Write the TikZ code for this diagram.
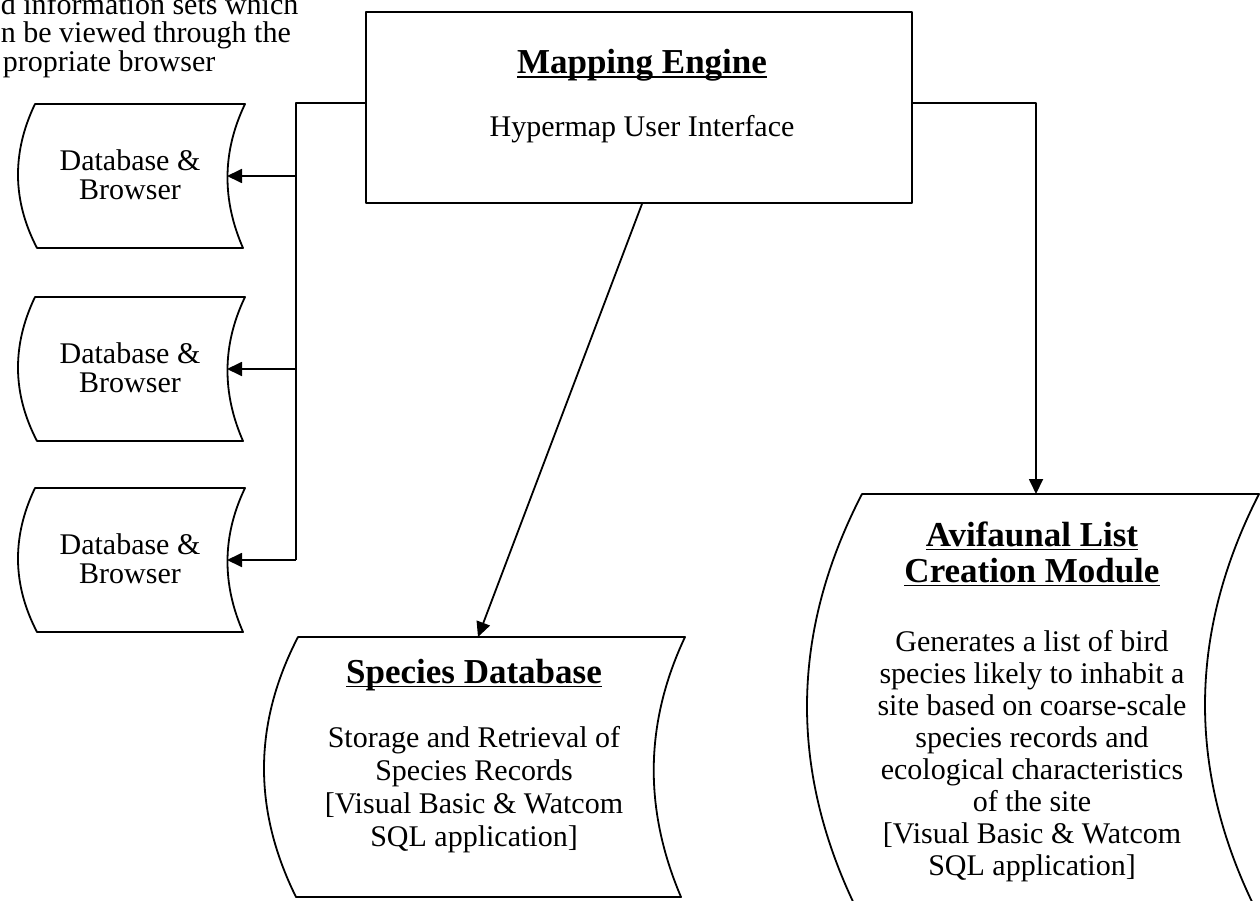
\documentclass[tikz,border=0pt]{standalone}
\usepackage{fontspec}
\setmainfont{Liberation Serif}
\usetikzlibrary{arrows.meta}
\newsavebox\ulbx
% underline set just below the baseline, crossing the descenders
\newcommand\ulfix[1]{\sbox\ulbx{#1}\rlap{\rule[-4pt]{\wd\ulbx}{1.6pt}}\usebox\ulbx}
\begin{document}
\begin{tikzpicture}[x=1pt,y=-1pt,
  line width=1.8pt, line join=round,
  arr/.style={-{Triangle[length=15pt,width=14pt]}},
  body/.style={align=center,inner sep=0pt,font=\fontsize{30}{32}\selectfont},
  ttl/.style={align=center,inner sep=0pt,font=\bfseries\fontsize{35}{36}\selectfont},
  note/.style={anchor=base west,inner sep=0pt,font=\fontsize{30}{30}\selectfont}]
\useasboundingbox (0,0) rectangle (1260,901);
\clip (0,0) rectangle (1260,901);
\fill[white] (0,0) rectangle (1260,901);

% caption text at the top left
\node[note] (note1) at (0,15) {d information sets which};
\node[note] (note2) at (0,43) {n be viewed through the};
\node[note] (note3) at (2,72) {propriate browser};

% mapping engine
\node[draw, minimum width=546pt, minimum height=191pt, inner sep=0pt] (me) at (639,107.5) {};
\node[ttl] (metitle) at (642,65.5) {\ulfix{Mapping Engine}};
\node[body] (mesub) at (642,129) {Hypermap User Interface};

% database & browser stores
\foreach \t/\n in {104/1,297/2,488/3}{
  \draw (35,\t) -- (245,\t) .. controls (222,\t+48) and (222,\t+96) .. (243,\t+144)
        -- (37,\t+144) .. controls (12,\t+96) and (12,\t+48) .. cycle;
  \node[body, font=\fontsize{30}{29}\selectfont] (db\n) at (130,\t+71) {Database \&\\Browser};
  \coordinate (dbin\n) at (227,\t+72);
  \coordinate (bus\n) at (296,\t+72);
}
\draw ([yshift=4.5pt]me.west) -| (bus3);
\foreach \n in {1,2,3} \draw[arr] (bus\n) -- (dbin\n);

% species database
\draw (298,637) -- (685,637) .. controls (644,724) and (644,810) .. (681,897)
      -- (296,897) .. controls (253,810) and (253,724) .. cycle;
\node[ttl] (sptitle) at (474,675) {\ulfix{Species Database}};
\node[body, font=\fontsize{30}{33}\selectfont] (spbody) at (474,790)
  {Storage and Retrieval of\\Species Records\\{}[Visual Basic \& Watcom\\SQL application]};
\coordinate (spin) at (478,637);
\draw[arr] ([xshift=3pt]me.south) -- (spin);

% avifaunal list creation module
\draw (862,494) -- (1259,494) .. controls (1187,635) and (1187,775) .. (1259,916)
      -- (860,916) .. controls (789,775) and (789,635) .. cycle;
\node[ttl] (avtitle) at (1032,554) {\ulfix{Avifaunal List}\\\ulfix{Creation Module}};
\node[body] (avbody) at (1032,756)
  {Generates a list of bird\\species likely to inhabit a\\site based on coarse-scale\\species records and\\ecological characteristics\\of the site\\{}[Visual Basic \& Watcom\\SQL application]};
\coordinate (avin) at (1036,494);
\draw[arr] ([yshift=4.5pt]me.east) -| (avin);
\end{tikzpicture}
\end{document}
